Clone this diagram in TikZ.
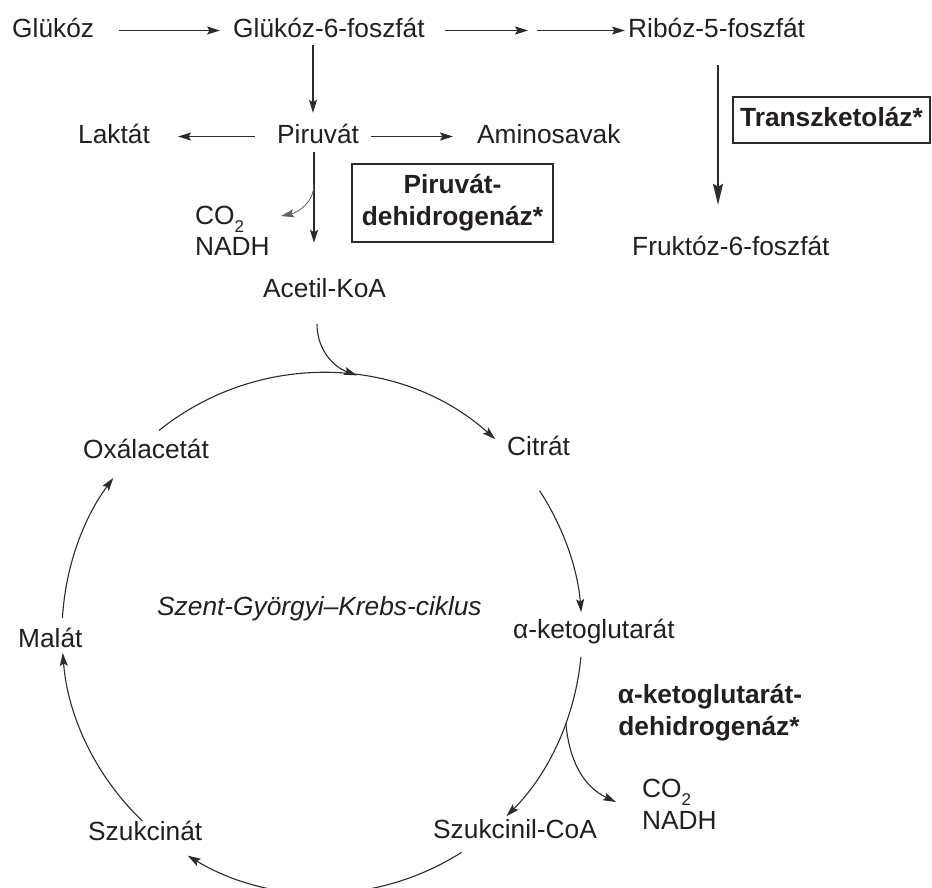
\documentclass[tikz,border=0pt]{standalone}
\usepackage{fontspec}
\setmainfont{Liberation Sans}
\usetikzlibrary{arrows.meta,calc}
\definecolor{ink}{RGB}{35,31,32}
\definecolor{linec}{RGB}{45,42,43}
\begin{document}
\begin{tikzpicture}[x=1pt,y=1pt,
  fnt/.style={font=\fontsize{26.3}{32}\selectfont},
  lbl/.style={inner sep=0pt, text height=19pt, text depth=6pt, anchor=base west, text=ink, fnt},
  arr/.style={draw=linec, line width=1.1pt, -{Stealth[length=13pt,width=8pt,inset=2.5pt]}},
  arrbig/.style={draw=linec, line width=1.4pt, -{Stealth[length=21pt,width=10pt,inset=3pt]}},
  enzbox/.style={draw=linec, line width=1.5pt, inner sep=0pt, text=ink, font=\fontsize{26.3}{32}\selectfont\bfseries},
]
\useasboundingbox (0,0) rectangle (932,-887);
\fill[white] (0,0) rectangle (932,-887);

% nodes
\node[lbl] (glu) at (12,-37) {Glükóz};
\node[lbl] (g6p) at (233,-37) {Glükóz-6-foszfát};
\node[lbl] (r5p) at (628,-37) {Ribóz-5-foszfát};
\node[lbl] (lak) at (78,-143) {Laktát};
\node[lbl] (pir) at (277,-143) {Piruvát};
\node[lbl] (ami) at (477,-143) {Aminosavak};
\node[lbl] (f6p) at (632,-255) {Fruktóz-6-foszfát};
\node[lbl] (aco) at (263,-297) {Acetil-KoA};
\node[lbl] (co2a) at (195,-224) {CO\raisebox{-8pt}{\fontsize{17}{17}\selectfont 2}};
\node[lbl] (nadha) at (195,-255) {NADH};
\node[lbl] (oxa) at (83,-458) {Oxálacetát};
\node[lbl] (cit) at (507,-455) {Citrát};
\node[lbl] (akg) at (513,-638) {α-ketoglutarát};
\node[lbl] (mal) at (18,-647) {Malát};
\node[lbl, font=\fontsize{26.3}{32}\selectfont\itshape] (szk) at (157,-615) {Szent-Györgyi–Krebs-ciklus};
\node[lbl] (szn) at (88,-840) {Szukcinát};
\node[lbl] (scoa) at (433,-838) {Szukcinil-CoA};
\node[lbl] (co2b) at (642,-797) {CO\raisebox{-8pt}{\fontsize{17}{17}\selectfont 2}};
\node[lbl] (nadhb) at (642,-829) {NADH};
\node[lbl, anchor=base, font=\fontsize{26.3}{32}\selectfont\bfseries] (akgdh1) at (710,-703) {α-ketoglutarát-};
\node[lbl, anchor=base, font=\fontsize{26.3}{32}\selectfont\bfseries] (akgdh2) at (709,-735) {dehidrogenáz*};
\node[enzbox, minimum width=201pt, minimum height=78pt, align=center] (pdh) at (452.5,-203) {Piruvát-\\dehidrogenáz*};
\node[enzbox, minimum width=197pt, minimum height=46pt, text height=19pt, text depth=6pt] (tk) at (831.5,-120) {Transzketoláz*};

% top row
\coordinate (m1) at (528,-30.5);
\coordinate (m2) at (537,-30.5);
\draw[arr, shorten <=25pt, shorten >=13pt] (glu) -- (g6p);
\draw[arr, shorten <=20pt] (g6p) -- (m1);
\draw[arr, shorten >=3pt] (m2) -- (r5p);

\coordinate (x1) at (313,0);
\draw[arr, shorten <=2pt, shorten >=11pt] (g6p.south -| x1) -- (pir.north -| x1);
\draw[arr, shorten <=22pt, shorten >=28pt] (pir) -- (lak);
\draw[arr, shorten <=11.5pt, shorten >=24pt] (pir) -- (ami);

\coordinate (x2) at (314,0);
\draw[arr, shorten <=3pt, shorten >=35pt] (pir.south -| x2) -- (aco.north -| x2);
\coordinate (br1) at (314,-184);
\coordinate (t1) at (281,-216);
\draw[arr, draw=linec!75, line width=0.8pt] (br1) to[out=-90,in=12] (t1);

\coordinate (x3) at (718,0);
\draw[arrbig, shorten <=22pt, shorten >=31pt] (r5p.south -| x3) -- (f6p.north -| x3);

% cycle
\coordinate (C) at (322,-633);
\coordinate (c1) at ($(C)+(128.8:260)$);
\coordinate (c2) at ($(C)+(33.2:260)$);
\coordinate (c3) at ($(C)+(-5.3:260)$);
\coordinate (c4) at ($(C)+(-57.5:260)$);
\coordinate (c5) at ($(C)+(-133.7:260)$);
\coordinate (c6) at ($(C)+(176.7:260)$);
\coordinate (ajoin) at ($(C)+(82.3:260)$);
\coordinate (bkg) at ($(C)+(-20.3:260)$);
\coordinate (a0) at (317,-324);
\coordinate (t2) at (616,-802);

\draw[arr] (c1) arc[start angle=128.8, end angle=48.2, radius=260];
\draw[arr] (c2) arc[start angle=33.2, end angle=4.6, radius=260];
\draw[arr] (c3) arc[start angle=-5.3, end angle=-44.8, radius=260];
\draw[arr] (c4) arc[start angle=-57.5, end angle=-121.1, radius=260];
\draw[arr] (c5) arc[start angle=-133.7, end angle=-175.6, radius=260];
\draw[arr] (c6) arc[start angle=176.7, end angle=143.4, radius=260];

\draw[arr] (a0) to[out=-90,in=160] (ajoin);
\draw[arr] (bkg) to[out=-85,in=155] (t2);
\end{tikzpicture}
\end{document}
